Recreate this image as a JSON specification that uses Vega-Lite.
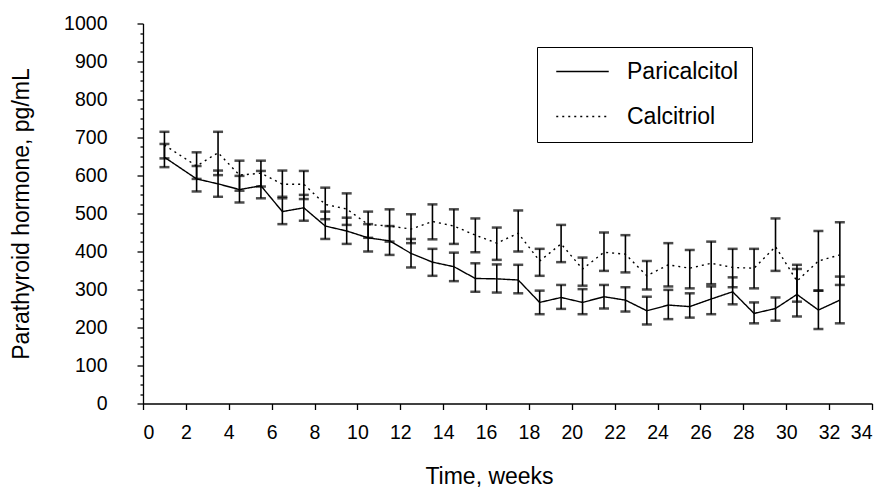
{
  "$schema": "https://vega.github.io/schema/vega-lite/v6.json",
  "width": 729,
  "height": 380,
  "autosize": {"type": "none"},
  "padding": {"left": 143, "top": 23.5, "right": 15, "bottom": 90},
  "background": "white",
  "config": {
    "view": {"stroke": null},
    "font": "Liberation Sans",
    "axis": {
      "grid": false,
      "domainColor": "black",
      "domainWidth": 1.3,
      "tickColor": "black",
      "tickWidth": 1.3,
      "labelColor": "black",
      "labelFont": "Liberation Sans",
      "labelFontSize": 19.5,
      "titleFont": "Liberation Sans",
      "titleFontSize": 23,
      "titleFontWeight": "normal",
      "titleColor": "black",
      "labelOverlap": false
    }
  },
  "data": {
    "values": [
      {"week": 1, "group": "Paricalcitol", "mean": 648, "lo": 622, "hi": 683},
      {"week": 2.5, "group": "Paricalcitol", "mean": 591, "lo": 558, "hi": 625},
      {"week": 3.5, "group": "Paricalcitol", "mean": 578, "lo": 544, "hi": 613},
      {"week": 4.5, "group": "Paricalcitol", "mean": 563, "lo": 529, "hi": 599},
      {"week": 5.5, "group": "Paricalcitol", "mean": 573, "lo": 540, "hi": 612},
      {"week": 6.5, "group": "Paricalcitol", "mean": 505, "lo": 472, "hi": 540},
      {"week": 7.5, "group": "Paricalcitol", "mean": 515, "lo": 481, "hi": 549},
      {"week": 8.5, "group": "Paricalcitol", "mean": 467, "lo": 433, "hi": 505},
      {"week": 9.5, "group": "Paricalcitol", "mean": 454, "lo": 420, "hi": 489},
      {"week": 10.5, "group": "Paricalcitol", "mean": 436, "lo": 400, "hi": 472},
      {"week": 11.5, "group": "Paricalcitol", "mean": 428, "lo": 391, "hi": 467},
      {"week": 12.5, "group": "Paricalcitol", "mean": 395, "lo": 358, "hi": 433},
      {"week": 13.5, "group": "Paricalcitol", "mean": 372, "lo": 336, "hi": 407},
      {"week": 14.5, "group": "Paricalcitol", "mean": 360, "lo": 322, "hi": 397},
      {"week": 15.5, "group": "Paricalcitol", "mean": 329, "lo": 294, "hi": 369},
      {"week": 16.5, "group": "Paricalcitol", "mean": 328, "lo": 292, "hi": 366},
      {"week": 17.5, "group": "Paricalcitol", "mean": 325, "lo": 290, "hi": 365},
      {"week": 18.5, "group": "Paricalcitol", "mean": 266, "lo": 235, "hi": 297},
      {"week": 19.5, "group": "Paricalcitol", "mean": 279, "lo": 249, "hi": 312},
      {"week": 20.5, "group": "Paricalcitol", "mean": 266, "lo": 235, "hi": 301},
      {"week": 21.5, "group": "Paricalcitol", "mean": 281, "lo": 250, "hi": 312},
      {"week": 22.5, "group": "Paricalcitol", "mean": 272, "lo": 242, "hi": 306},
      {"week": 23.5, "group": "Paricalcitol", "mean": 244, "lo": 208, "hi": 281},
      {"week": 24.5, "group": "Paricalcitol", "mean": 259, "lo": 222, "hi": 299},
      {"week": 25.5, "group": "Paricalcitol", "mean": 255, "lo": 226, "hi": 290},
      {"week": 26.5, "group": "Paricalcitol", "mean": 275, "lo": 235, "hi": 308},
      {"week": 27.5, "group": "Paricalcitol", "mean": 294, "lo": 261, "hi": 332},
      {"week": 28.5, "group": "Paricalcitol", "mean": 237, "lo": 211, "hi": 266},
      {"week": 29.5, "group": "Paricalcitol", "mean": 250, "lo": 218, "hi": 279},
      {"week": 30.5, "group": "Paricalcitol", "mean": 287, "lo": 229, "hi": 354},
      {"week": 31.5, "group": "Paricalcitol", "mean": 246, "lo": 196, "hi": 297},
      {"week": 32.5, "group": "Paricalcitol", "mean": 272, "lo": 211, "hi": 334},
      {"week": 1, "group": "Calcitriol", "mean": 680, "lo": 645, "hi": 715},
      {"week": 2.5, "group": "Calcitriol", "mean": 625, "lo": 591, "hi": 661},
      {"week": 3.5, "group": "Calcitriol", "mean": 660, "lo": 601, "hi": 715},
      {"week": 4.5, "group": "Calcitriol", "mean": 601, "lo": 560, "hi": 639},
      {"week": 5.5, "group": "Calcitriol", "mean": 606, "lo": 571, "hi": 639},
      {"week": 6.5, "group": "Calcitriol", "mean": 577, "lo": 544, "hi": 613},
      {"week": 7.5, "group": "Calcitriol", "mean": 577, "lo": 538, "hi": 612},
      {"week": 8.5, "group": "Calcitriol", "mean": 524, "lo": 485, "hi": 568},
      {"week": 9.5, "group": "Calcitriol", "mean": 512, "lo": 470, "hi": 553},
      {"week": 10.5, "group": "Calcitriol", "mean": 471, "lo": 436, "hi": 505},
      {"week": 11.5, "group": "Calcitriol", "mean": 467, "lo": 426, "hi": 511},
      {"week": 12.5, "group": "Calcitriol", "mean": 459, "lo": 422, "hi": 498},
      {"week": 13.5, "group": "Calcitriol", "mean": 479, "lo": 432, "hi": 524},
      {"week": 14.5, "group": "Calcitriol", "mean": 467, "lo": 420, "hi": 511},
      {"week": 15.5, "group": "Calcitriol", "mean": 443, "lo": 398, "hi": 487},
      {"week": 16.5, "group": "Calcitriol", "mean": 422, "lo": 378, "hi": 463},
      {"week": 17.5, "group": "Calcitriol", "mean": 448, "lo": 400, "hi": 508},
      {"week": 18.5, "group": "Calcitriol", "mean": 375, "lo": 336, "hi": 407},
      {"week": 19.5, "group": "Calcitriol", "mean": 420, "lo": 372, "hi": 470},
      {"week": 20.5, "group": "Calcitriol", "mean": 354, "lo": 310, "hi": 384},
      {"week": 21.5, "group": "Calcitriol", "mean": 398, "lo": 349, "hi": 450},
      {"week": 22.5, "group": "Calcitriol", "mean": 393, "lo": 345, "hi": 443},
      {"week": 23.5, "group": "Calcitriol", "mean": 336, "lo": 300, "hi": 375},
      {"week": 24.5, "group": "Calcitriol", "mean": 365, "lo": 308, "hi": 422},
      {"week": 25.5, "group": "Calcitriol", "mean": 356, "lo": 303, "hi": 404},
      {"week": 26.5, "group": "Calcitriol", "mean": 369, "lo": 314, "hi": 426},
      {"week": 27.5, "group": "Calcitriol", "mean": 358, "lo": 306, "hi": 407},
      {"week": 28.5, "group": "Calcitriol", "mean": 356, "lo": 303, "hi": 407},
      {"week": 29.5, "group": "Calcitriol", "mean": 413, "lo": 349, "hi": 487},
      {"week": 30.5, "group": "Calcitriol", "mean": 322, "lo": 268, "hi": 365},
      {"week": 31.5, "group": "Calcitriol", "mean": 375, "lo": 297, "hi": 454},
      {"week": 32.5, "group": "Calcitriol", "mean": 391, "lo": 312, "hi": 477}
    ]
  },
  "layer": [
    {
      "mark": {"type": "line", "color": "black", "strokeWidth": 1.4},
      "encoding": {
        "x": {
          "field": "week",
          "type": "quantitative",
          "scale": {"domain": [0, 34], "nice": false, "zero": false},
          "axis": {
            "values": [0, 2, 4, 6, 8, 10, 12, 14, 16, 18, 20, 22, 24, 26, 28, 30, 32, 34],
            "title": "Time, weeks",
            "tickSize": 6,
            "labelPadding": 14,
            "labelOverlap": false,
            "titlePadding": 23,
            "titleAnchor": "middle",
            "titleX": 346
          }
        },
        "y": {
          "field": "mean",
          "type": "quantitative",
          "scale": {"domain": [0, 1000], "nice": false},
          "axis": {
            "values": [0, 25, 50, 75, 100, 125, 150, 175, 200, 225, 250, 275, 300, 325, 350, 375, 400, 425, 450, 475, 500, 525, 550, 575, 600, 625, 650, 675, 700, 725, 750, 775, 800, 825, 850, 875, 900, 925, 950, 975, 1000],
            "format": "d",
            "labelExpr": "datum.value % 100 === 0 ? datum.label : ''",
            "labelOverlap": false,
            "tickSize": {"condition": {"test": "datum.value % 100 === 0", "value": 6}, "value": 3},
            "labelPadding": 30,
            "title": "Parathyroid hormone, pg/mL",
            "titlePadding": 30
          }
        },
        "strokeDash": {
          "field": "group",
          "type": "nominal",
          "scale": {"domain": ["Paricalcitol", "Calcitriol"], "range": [[1, 0], [2, 4]]},
          "legend": {
            "orient": "none",
            "legendX": 394,
            "legendY": 23.5,
            "title": null,
            "strokeColor": "black",
            "padding": 13,
            "symbolType": "M-0.5,0H4.5",
            "symbolSize": 441,
            "symbolStrokeWidth": 1.3,
            "symbolStrokeColor": "black",
            "labelFontSize": 23,
            "labelColor": "black",
            "labelFont": "Liberation Sans",
            "labelOffset": 54,
            "rowPadding": 21
          }
        }
      }
    },
    {
      "mark": {
        "type": "errorbar",
        "ticks": {"size": 10, "thickness": 2.5, "color": "black"},
        "rule": {"strokeWidth": 1.6, "color": "black"}
      },
      "encoding": {
        "x": {"field": "week", "type": "quantitative"},
        "y": {
          "field": "hi",
          "type": "quantitative",
          "axis": {
            "values": [0, 25, 50, 75, 100, 125, 150, 175, 200, 225, 250, 275, 300, 325, 350, 375, 400, 425, 450, 475, 500, 525, 550, 575, 600, 625, 650, 675, 700, 725, 750, 775, 800, 825, 850, 875, 900, 925, 950, 975, 1000],
            "format": "d",
            "labelExpr": "datum.value % 100 === 0 ? datum.label : ''",
            "labelOverlap": false,
            "tickSize": {"condition": {"test": "datum.value % 100 === 0", "value": 6}, "value": 3},
            "labelPadding": 30,
            "title": "Parathyroid hormone, pg/mL",
            "titlePadding": 30
          }
        },
        "y2": {"field": "lo"}
      }
    }
  ]
}
